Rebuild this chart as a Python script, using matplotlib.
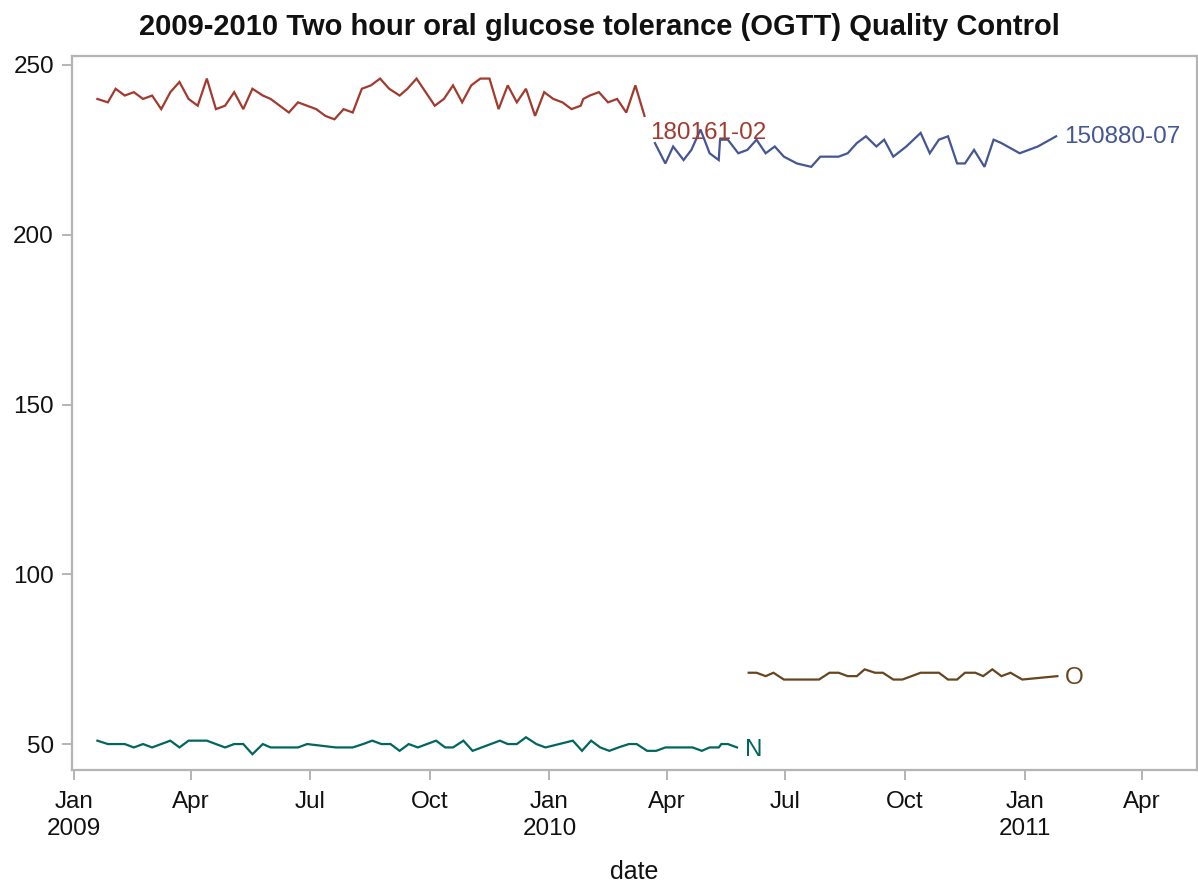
import matplotlib
matplotlib.use("Agg")
import matplotlib.pyplot as plt
import matplotlib.dates as mdates
from matplotlib.ticker import FuncFormatter
import pandas as pd

plt.rcParams['font.family'] = ['Liberation Sans', 'DejaVu Sans']

# ---------------- data ----------------
red_dates = ["2009-01-19", "2009-01-27", "2009-02-02", "2009-02-09", "2009-02-16", "2009-02-23",
             "2009-03-02", "2009-03-09", "2009-03-16", "2009-03-23", "2009-03-30", "2009-04-06",
             "2009-04-13", "2009-04-20", "2009-04-27", "2009-05-04", "2009-05-11", "2009-05-18",
             "2009-05-26", "2009-06-01", "2009-06-08", "2009-06-15", "2009-06-22", "2009-06-29",
             "2009-07-06", "2009-07-13", "2009-07-20", "2009-07-27", "2009-08-03", "2009-08-10",
             "2009-08-17", "2009-08-24", "2009-08-31", "2009-09-08", "2009-09-14", "2009-09-21",
             "2009-09-28", "2009-10-05", "2009-10-12", "2009-10-19", "2009-10-26", "2009-11-02",
             "2009-11-09", "2009-11-16", "2009-11-23", "2009-11-30", "2009-12-07", "2009-12-14",
             "2009-12-21", "2009-12-28", "2010-01-04", "2010-01-11", "2010-01-18", "2010-01-25",
             "2010-01-27", "2010-02-01", "2010-02-08", "2010-02-15", "2010-02-22", "2010-03-01",
             "2010-03-08", "2010-03-15"]
red_values = [240, 239, 243, 241, 242, 240, 241, 237, 242, 245, 240, 238,
              246, 237, 238, 242, 237, 243, 241, 240, 238, 236, 239, 238,
              237, 235, 234, 237, 236, 243, 244, 246, 243, 241, 243, 246,
              242, 238, 240, 244, 239, 244, 246, 246, 237, 244, 239, 243,
              235, 242, 240, 239, 237, 238, 240, 241, 242, 239, 240, 236,
              244, 235]

blue_dates = ["2010-03-23", "2010-03-31", "2010-04-06", "2010-04-14", "2010-04-20", "2010-04-27",
              "2010-05-04", "2010-05-11", "2010-05-12", "2010-05-18", "2010-05-26", "2010-06-02",
              "2010-06-09", "2010-06-16", "2010-06-23", "2010-06-30", "2010-07-10", "2010-07-21",
              "2010-07-28", "2010-08-04", "2010-08-11", "2010-08-18", "2010-08-25", "2010-09-01",
              "2010-09-09", "2010-09-15", "2010-09-22", "2010-10-02", "2010-10-13", "2010-10-20",
              "2010-10-27", "2010-11-03", "2010-11-10", "2010-11-16", "2010-11-23", "2010-12-01",
              "2010-12-08", "2010-12-14", "2010-12-28", "2011-01-11", "2011-01-25"]
blue_values = [227, 221, 226, 222, 225, 231, 224, 222, 228, 228, 224, 225,
               228, 224, 226, 223, 221, 220, 223, 223, 223, 224, 227, 229,
               226, 228, 223, 226, 230, 224, 228, 229, 221, 221, 225, 220,
               228, 227, 224, 226, 229]

green_dates = ["2009-01-19", "2009-01-27", "2009-02-02", "2009-02-09", "2009-02-16", "2009-02-23",
               "2009-03-02", "2009-03-09", "2009-03-16", "2009-03-23", "2009-03-30", "2009-04-06",
               "2009-04-13", "2009-04-20", "2009-04-27", "2009-05-04", "2009-05-11", "2009-05-18",
               "2009-05-26", "2009-06-01", "2009-06-08", "2009-06-15", "2009-06-22", "2009-06-29",
               "2009-07-21", "2009-08-03", "2009-08-11", "2009-08-18", "2009-08-25", "2009-09-01",
               "2009-09-08", "2009-09-15", "2009-09-22", "2009-10-06", "2009-10-13", "2009-10-19",
               "2009-10-27", "2009-11-03", "2009-11-10", "2009-11-24", "2009-11-30", "2009-12-07",
               "2009-12-14", "2009-12-22", "2009-12-29", "2010-01-19", "2010-01-26", "2010-02-02",
               "2010-02-09", "2010-02-16", "2010-02-23", "2010-03-03", "2010-03-09", "2010-03-17",
               "2010-03-24", "2010-03-31", "2010-04-21", "2010-04-28", "2010-05-04", "2010-05-11",
               "2010-05-13", "2010-05-18", "2010-05-25"]
green_values = [51, 50, 50, 50, 49, 50, 49, 50, 51, 49, 51, 51,
                51, 50, 49, 50, 50, 47, 50, 49, 49, 49, 49, 50,
                49, 49, 50, 51, 50, 50, 48, 50, 49, 51, 49, 49,
                51, 48, 49, 51, 50, 50, 52, 50, 49, 51, 48, 51,
                49, 48, 49, 50, 50, 48, 48, 49, 49, 48, 49, 49,
                50, 50, 49]

brown_dates = ["2010-06-03", "2010-06-09", "2010-06-16", "2010-06-22", "2010-06-30", "2010-07-07",
               "2010-07-14", "2010-07-21", "2010-07-27", "2010-08-04", "2010-08-11", "2010-08-18",
               "2010-08-25", "2010-08-31", "2010-09-08", "2010-09-14", "2010-09-22", "2010-09-29",
               "2010-10-13", "2010-10-27", "2010-11-03", "2010-11-10", "2010-11-16", "2010-11-24",
               "2010-11-30", "2010-12-07", "2010-12-14", "2010-12-21", "2010-12-30", "2011-01-26"]
brown_values = [71, 71, 70, 71, 69, 69, 69, 69, 69, 71, 71, 70,
                70, 72, 71, 71, 69, 69, 71, 71, 69, 69, 71, 71,
                70, 72, 70, 71, 69, 70]

series = [
    ("180161-02", red_dates, red_values, "#A23A2E", (6, -17)),
    ("150880-07", blue_dates, blue_values, "#445694", (8, -1)),
    ("N", green_dates, green_values, "#01665E", (8, -3)),
    ("O", brown_dates, brown_values, "#66451F", (7, -2)),
]

title = "2009-2010 Two hour oral glucose tolerance (OGTT) Quality Control"
y_ticks = [50, 100, 150, 200, 250]
x_ticks = ["2009-01-01", "2009-04-01", "2009-07-01", "2009-10-01", "2010-01-01",
           "2010-04-01", "2010-07-01", "2010-10-01", "2011-01-01", "2011-04-01"]

# ---------------- figure ----------------
fig = plt.figure(figsize=(11.98, 8.86), dpi=100)
ax = fig.add_axes([0.0601, 0.1309, 0.9389, 0.8059])

for name, d, v, c, off in series:
    dt = pd.to_datetime(d)
    ax.plot(dt, v, color=c, lw=1.6, solid_joinstyle='miter')
    ax.annotate(name, xy=(dt[-1], v[-1]), xytext=off, textcoords='offset pixels',
                color=c, fontsize=17.5, ha='left', va='center')

ax.set_ylim(42.35, 252.65)
ax.set_xlim(pd.Timestamp("2008-12-30 12:00"), pd.Timestamp("2011-05-13"))
ax.set_yticks(y_ticks)
ax.set_xticks(pd.to_datetime(x_ticks))

def fmt(x, pos):
    d = mdates.num2date(x)
    s = d.strftime("%b")
    if d.month == 1:
        s += "\n" + d.strftime("%Y")
    return s

ax.xaxis.set_major_formatter(FuncFormatter(fmt))

gray = "#B4B4B4"
for sp in ax.spines.values():
    sp.set_color(gray)
    sp.set_linewidth(1.6)
ax.tick_params(axis='both', colors=gray, labelcolor="#111111", labelsize=17.5,
               length=7.5, width=1.4, direction='out')
ax.tick_params(axis='y', pad=5.5)
ax.tick_params(axis='x', pad=7.5)
for lbl in ax.get_xticklabels():
    lbl.set_linespacing(1.32)

ax.set_xlabel("date", fontsize=18, color="#111111", labelpad=14)
fig.text(0.5, 0.969, title, ha='center', va='center', fontsize=21, fontweight='bold',
         color="#111111")

fig.savefig("out.png", dpi=100)
